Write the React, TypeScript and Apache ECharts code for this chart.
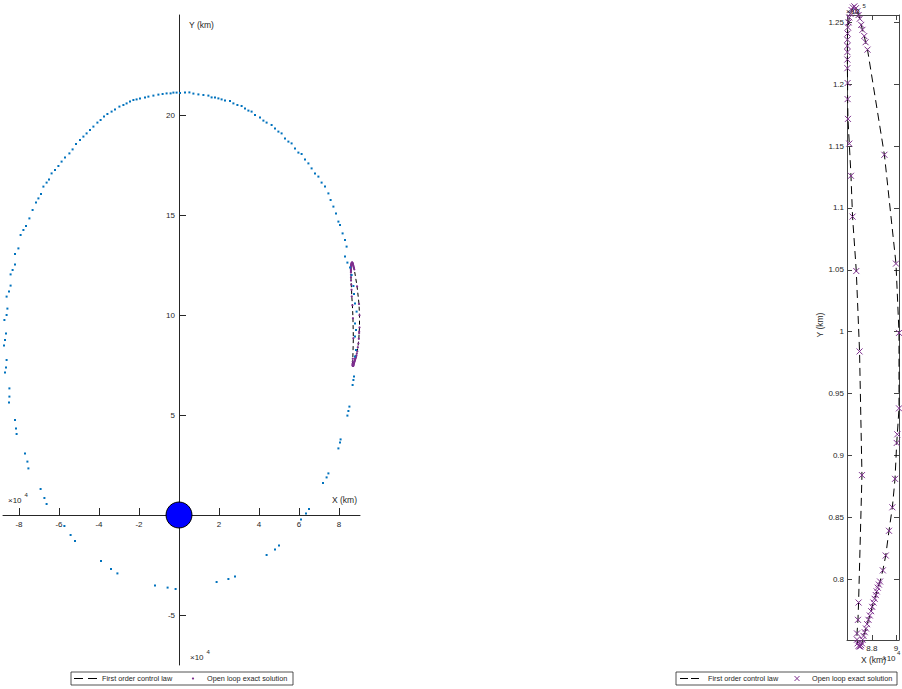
import React, { useEffect, useRef } from 'react';
import * as echarts from 'echarts';

// ---- Data (units of 10^4 km) ----
// Reference orbit (blue dots) in four pieces
const orbitUpperX = [-8.03, -7.92, -7.78, -7.65, -7.48, -7.32, -7.15, -7.03, -6.9, -6.78, -6.62, -6.5, -6.37, -6.2, -6.03, -5.87, -5.7, -5.48, -5.32, -5.15, -4.95, -4.78, -4.62, -4.45, -4.28, -4.08, -3.92, -3.75, -3.58, -3.37, -3.2, -2.98, -2.78, -2.62, -2.45, -2.28, -2.12, -1.95, -1.7, -1.53, -1.28, -1.03, -0.82, -0.62, -0.42, -0.28, -0.12, 0.05, 0.3, 0.52, 0.72, 0.97, 1.22, 1.47, 1.63, 1.8, 1.97, 2.13, 2.3, 2.55, 2.72, 2.92, 3.13, 3.3, 3.47, 3.63, 3.8, 4.05, 4.22, 4.38, 4.63, 4.8, 4.97, 5.13, 5.3, 5.47, 5.63, 5.8, 5.97, 6.13, 6.3, 6.47, 6.63, 6.8, 6.97, 7.13, 7.3, 7.47, 7.58, 7.72, 7.85, 7.97, 8.05, 8.18, 8.3, 8.38];
const orbitUpperY = [13.33, 14.0, 14.25, 14.45, 14.83, 15.25, 15.62, 15.83, 16.05, 16.42, 16.62, 16.78, 17.08, 17.25, 17.45, 17.67, 17.88, 18.08, 18.28, 18.55, 18.75, 18.92, 19.08, 19.25, 19.42, 19.62, 19.75, 19.92, 20.05, 20.17, 20.28, 20.42, 20.5, 20.58, 20.67, 20.75, 20.78, 20.83, 20.88, 20.92, 20.97, 21.02, 21.05, 21.08, 21.08, 21.12, 21.12, 21.1, 21.12, 21.13, 21.07, 21.03, 21.0, 20.97, 20.88, 20.87, 20.83, 20.78, 20.72, 20.7, 20.58, 20.5, 20.45, 20.33, 20.22, 20.17, 20.0, 19.88, 19.72, 19.62, 19.5, 19.33, 19.17, 19.08, 18.83, 18.67, 18.58, 18.33, 18.12, 18.05, 17.78, 17.58, 17.33, 17.08, 16.92, 16.62, 16.42, 16.08, 15.75, 15.42, 15.08, 14.67, 14.5, 14.08, 13.75, 13.42];
const orbitLeftX = [-8.2, -8.2, -8.32, -8.42, -8.42, -8.5, -8.62, -8.58, -8.62, -8.73, -8.65, -8.7, -8.75, -8.62, -8.65, -8.7, -8.48, -8.48, -8.5, -8.2, -8.15, -8.12, -7.7, -7.58, -7.53, -6.92, -6.73, -6.62];
const orbitLeftY = [13.05, 12.53, 12.25, 12.03, 11.47, 11.17, 10.92, 10.32, 10.0, 9.75, 9.08, 8.75, 8.47, 7.75, 7.38, 7.12, 6.33, 5.92, 5.62, 4.75, 4.33, 4.05, 3.08, 2.67, 2.33, 1.3, 0.85, 0.55];
const orbitLowerX = [-5.73, -5.42, -5.2, -3.9, -3.4, -3.08, -1.2, -0.57, -0.17, 1.88, 2.47, 2.8, 4.38, 4.8, 5.0, 6.1, 6.35, 6.5, 7.2, 7.38, 7.47];
const orbitLowerY = [-0.55, -1.0, -1.3, -2.3, -2.7, -2.92, -3.52, -3.63, -3.7, -3.35, -3.2, -3.08, -2.0, -1.72, -1.53, -0.22, 0.08, 0.3, 1.6, 1.88, 2.08];
const orbitRightX = [7.97, 8.05, 8.08, 8.42, 8.47, 8.52, 8.68, 8.72, 8.75, 8.8, 8.85, 8.8, 8.85, 8.8, 8.88, 8.8, 8.75, 8.72, 8.63, 8.55, 8.42, 8.3];
const orbitRightY = [3.33, 3.62, 3.78, 4.97, 5.2, 5.42, 6.5, 6.75, 6.92, 7.92, 8.25, 8.92, 9.25, 9.58, 10.17, 10.58, 11.05, 11.45, 12.0, 12.38, 12.62, 12.92];

// Controlled trajectory (dashed line / purple markers)
const trajX = [8.690, 8.697, 8.704, 8.711, 8.718, 8.724, 8.731, 8.741, 8.751, 8.761, 8.772, 8.783, 8.794, 8.803, 8.813, 8.823, 8.833, 8.840, 8.849, 8.858, 8.868, 8.891, 8.915, 8.942, 8.970, 8.992, 9.006, 9.011, 9.025, 9.025, 9.000, 8.904, 8.764, 8.748, 8.737, 8.722, 8.712, 8.700, 8.690, 8.680, 8.668, 8.655, 8.643, 8.632, 8.622, 8.613, 8.607, 8.602, 8.599, 8.597, 8.597, 8.597, 8.597, 8.597, 8.599, 8.599, 8.602, 8.613, 8.627, 8.640, 8.671, 8.698, 8.718, 8.690, 8.685, 8.677, 8.677, 8.682];
const trajY = [7.460, 7.455, 7.455, 7.465, 7.480, 7.510, 7.540, 7.570, 7.600, 7.635, 7.670, 7.705, 7.740, 7.775, 7.810, 7.840, 7.870, 7.900, 7.930, 7.955, 7.980, 8.070, 8.190, 8.390, 8.580, 8.810, 9.100, 9.170, 9.380, 9.990, 10.550, 11.430, 12.280, 12.340, 12.390, 12.440, 12.480, 12.530, 12.560, 12.590, 12.615, 12.630, 12.620, 12.600, 12.570, 12.540, 12.500, 12.460, 12.410, 12.360, 12.310, 12.260, 12.200, 12.130, 12.010, 11.880, 11.720, 11.520, 11.260, 10.930, 10.490, 9.840, 8.840, 7.810, 7.670, 7.560, 7.510, 7.480];

const earthX = [0];
const earthY = [0];

// Tick values
const leftXTicks = [-8, -6, -4, -2, 2, 4, 6, 8];
const leftYTicks = [-5, 5, 10, 15, 20];
const rightXTicks = [8.8, 9];
const rightYTicks = [8, 8.5, 9, 9.5, 10, 10.5, 11, 11.5, 12, 12.5];

const seriesNames = ['First order control law', 'Open loop exact solution'];

const FONT = '"Liberation Sans", Arial, Helvetica, sans-serif';
const TXT = '#262626';
const PURPLE = '#7E2F8E';
const BLUE = '#0072BD';

// left panel layout (pixels)
const L = { left: 3, top: 15, width: 357, height: 650 };
const LX = { min: -8.8, max: 9.05 };
const LY = { min: -7.5, max: 25 };

const zip = (xs: number[], ys: number[]) => xs.map((x, i) => [x, ys[i]]);

function txt(text: string, x: number, y: number, size: number, extra: any = {}) {
  return {
    type: 'text',
    x,
    y,
    silent: true,
    ...extra,
    style: {
      text,
      fill: TXT,
      font: `${size}px ${FONT}`,
      align: 'left',
      verticalAlign: 'middle',
      ...(extra.style || {}),
    },
  };
}

export default function App() {
  const ref = useRef<HTMLDivElement>(null);

  useEffect(() => {
    if (!ref.current) return;
    const chart = echarts.init(ref.current, undefined, { renderer: 'svg' });

    const orbit = [
      ...zip(orbitUpperX, orbitUpperY),
      ...zip(orbitLeftX, orbitLeftY),
      ...zip(orbitLowerX, orbitLowerY),
      ...zip(orbitRightX, orbitRightY),
    ];
    const traj = zip(trajX, trajY);
    const earth = zip(earthX, earthY);

    const tickLabel = { fontSize: 8, color: TXT, fontFamily: FONT };

    // axes through the origin: shift the edge axes inward by offset
    const yAxisOffset = -((0 - LX.min) / (LX.max - LX.min)) * L.width;
    const xAxisOffset = -((0 - LY.min) / (LY.max - LY.min)) * L.height;

    const option: any = {
      animation: false,
      backgroundColor: '#fff',
      grid: [
        { ...L, containLabel: false, outerBoundsMode: 'none' },
        { left: 847, top: 15, width: 52, height: 625, containLabel: false, outerBoundsMode: 'none' },
      ],
      xAxis: [
        {
          gridIndex: 0, type: 'value', position: 'bottom', offset: xAxisOffset, min: LX.min, max: LX.max,
          axisLine: { show: true, onZero: false, lineStyle: { color: TXT, width: 1 } },
          axisTick: { show: true, inside: true, length: 7, customValues: leftXTicks, lineStyle: { color: TXT } },
          axisLabel: { ...tickLabel, margin: 5, customValues: leftXTicks },
          splitLine: { show: false },
        },
        {
          gridIndex: 1, type: 'value', position: 'bottom', min: 8.594, max: 9.025,
          axisLine: { show: true, onZero: false, lineStyle: { color: '#444', width: 1 } },
          axisTick: { show: true, inside: true, length: 5, customValues: rightXTicks, lineStyle: { color: '#444' } },
          axisLabel: { ...tickLabel, margin: 4, customValues: rightXTicks, formatter: (v: number) => String(v) },
          splitLine: { show: false },
        },
        {
          gridIndex: 1, type: 'value', position: 'top', min: 8.594, max: 9.025,
          axisLine: { show: true, onZero: false, lineStyle: { color: '#444', width: 1 } },
          axisTick: { show: true, inside: true, length: 5, customValues: rightXTicks, lineStyle: { color: '#444' } },
          axisLabel: { show: false },
          splitLine: { show: false },
        },
      ],
      yAxis: [
        {
          gridIndex: 0, type: 'value', position: 'left', offset: yAxisOffset, min: LY.min, max: LY.max,
          axisLine: { show: true, onZero: false, lineStyle: { color: TXT, width: 1 } },
          axisTick: { show: true, inside: true, length: 7, customValues: leftYTicks, lineStyle: { color: TXT } },
          axisLabel: { ...tickLabel, margin: 4, customValues: leftYTicks },
          splitLine: { show: false },
        },
        {
          gridIndex: 1, type: 'value', position: 'left', min: 7.507, max: 12.56,
          axisLine: { show: true, onZero: false, lineStyle: { color: '#444', width: 1 } },
          axisTick: { show: true, inside: true, length: 5, customValues: rightYTicks, lineStyle: { color: '#444' } },
          axisLabel: {
            ...tickLabel, margin: 3, customValues: rightYTicks,
            formatter: (v: number) => String(parseFloat((v / 10).toFixed(3))),
          },
          splitLine: { show: false },
        },
        {
          gridIndex: 1, type: 'value', position: 'right', min: 7.507, max: 12.56,
          axisLine: { show: true, onZero: false, lineStyle: { color: '#444', width: 1 } },
          axisTick: { show: true, inside: true, length: 5, customValues: rightYTicks, lineStyle: { color: '#444' } },
          axisLabel: { show: false },
          splitLine: { show: false },
        },
      ],
      series: [
        {
          name: seriesNames[0], type: 'line', xAxisIndex: 0, yAxisIndex: 0, data: traj,
          showSymbol: false, symbol: 'none', clip: false, silent: true, z: 2,
          lineStyle: { color: '#000', width: 1, type: [4, 3] },
        },
        {
          name: seriesNames[1], type: 'scatter', xAxisIndex: 0, yAxisIndex: 0, data: traj,
          symbol: 'circle', symbolSize: 2.2, clip: false, silent: true, z: 3,
          itemStyle: { color: PURPLE, opacity: 1 },
        },
        {
          name: 'orbit', type: 'scatter', xAxisIndex: 0, yAxisIndex: 0, data: orbit,
          symbol: 'rect', symbolSize: 2, clip: false, silent: true, z: 4,
          itemStyle: { color: BLUE, opacity: 1 },
        },
        {
          name: 'Earth', type: 'scatter', xAxisIndex: 0, yAxisIndex: 0, data: earth,
          symbol: 'circle', symbolSize: 26, clip: false, silent: true, z: 10,
          itemStyle: { color: '#0000FF', borderColor: '#000', borderWidth: 1, opacity: 1 },
        },
        {
          name: seriesNames[0] + ' ', type: 'line', xAxisIndex: 1, yAxisIndex: 1, data: traj,
          showSymbol: false, symbol: 'none', clip: false, silent: true, z: 2,
          lineStyle: { color: '#000', width: 1, type: [8, 5] },
        },
        {
          name: seriesNames[1] + ' ', type: 'scatter', xAxisIndex: 1, yAxisIndex: 1, data: traj,
          symbol: 'path://M0 0L10 10M10 0L0 10', symbolSize: 6, clip: false, silent: true, z: 3,
          itemStyle: { color: 'none', borderColor: PURPLE, borderWidth: 1, opacity: 1 },
        },
      ],
      graphic: [
        // left panel annotations
        txt('Y (km)', 189, 25, 8.5),
        txt('X (km)', 332, 500, 8.5),
        txt('×10', 8, 500, 8),
        txt('4', 24.5, 495, 6),
        txt('×10', 190, 657, 8),
        txt('4', 206.5, 652, 6),
        // right panel annotations
        txt('×10', 846, 11, 8, { z: 100 }),
        txt('5', 862.5, 6, 6, { z: 100 }),
        txt('Y (km)', 820, 325, 8.5, { rotation: Math.PI / 2, style: { align: 'center' } }),
        txt('X (km)', 861, 660, 8.5),
        txt('×10', 882, 658, 8),
        txt('4', 897, 653, 6),
        // left legend
        { type: 'rect', silent: true, shape: { x: 71, y: 672, width: 222, height: 13 }, style: { fill: '#fff', stroke: TXT, lineWidth: 0.8 } },
        { type: 'line', silent: true, shape: { x1: 74, y1: 678.5, x2: 97, y2: 678.5 }, style: { stroke: '#000', lineWidth: 1, lineDash: [9, 5] } },
        txt(seriesNames[0], 102, 678.5, 7.3),
        { type: 'circle', silent: true, shape: { cx: 193, cy: 678.5, r: 1.1 }, style: { fill: PURPLE } },
        txt(seriesNames[1], 207, 678.5, 7.3),
        // right legend
        { type: 'rect', silent: true, shape: { x: 676, y: 672, width: 221, height: 13 }, style: { fill: '#fff', stroke: TXT, lineWidth: 0.8 } },
        { type: 'line', silent: true, shape: { x1: 680, y1: 678.5, x2: 699, y2: 678.5 }, style: { stroke: '#000', lineWidth: 1, lineDash: [8, 3] } },
        txt(seriesNames[0], 708, 678.5, 7.3),
        { type: 'line', silent: true, shape: { x1: 794.5, y1: 676, x2: 799.5, y2: 681 }, style: { stroke: PURPLE, lineWidth: 1 } },
        { type: 'line', silent: true, shape: { x1: 799.5, y1: 676, x2: 794.5, y2: 681 }, style: { stroke: PURPLE, lineWidth: 1 } },
        txt(seriesNames[1], 812, 678.5, 7.3),
      ],
    };

    chart.setOption(option);
    return () => chart.dispose();
  }, []);

  return (
    <div
      ref={ref}
      style={{ position: 'absolute', left: 0, top: 0, width: 902, height: 689, background: '#fff' }}
    />
  );
}
